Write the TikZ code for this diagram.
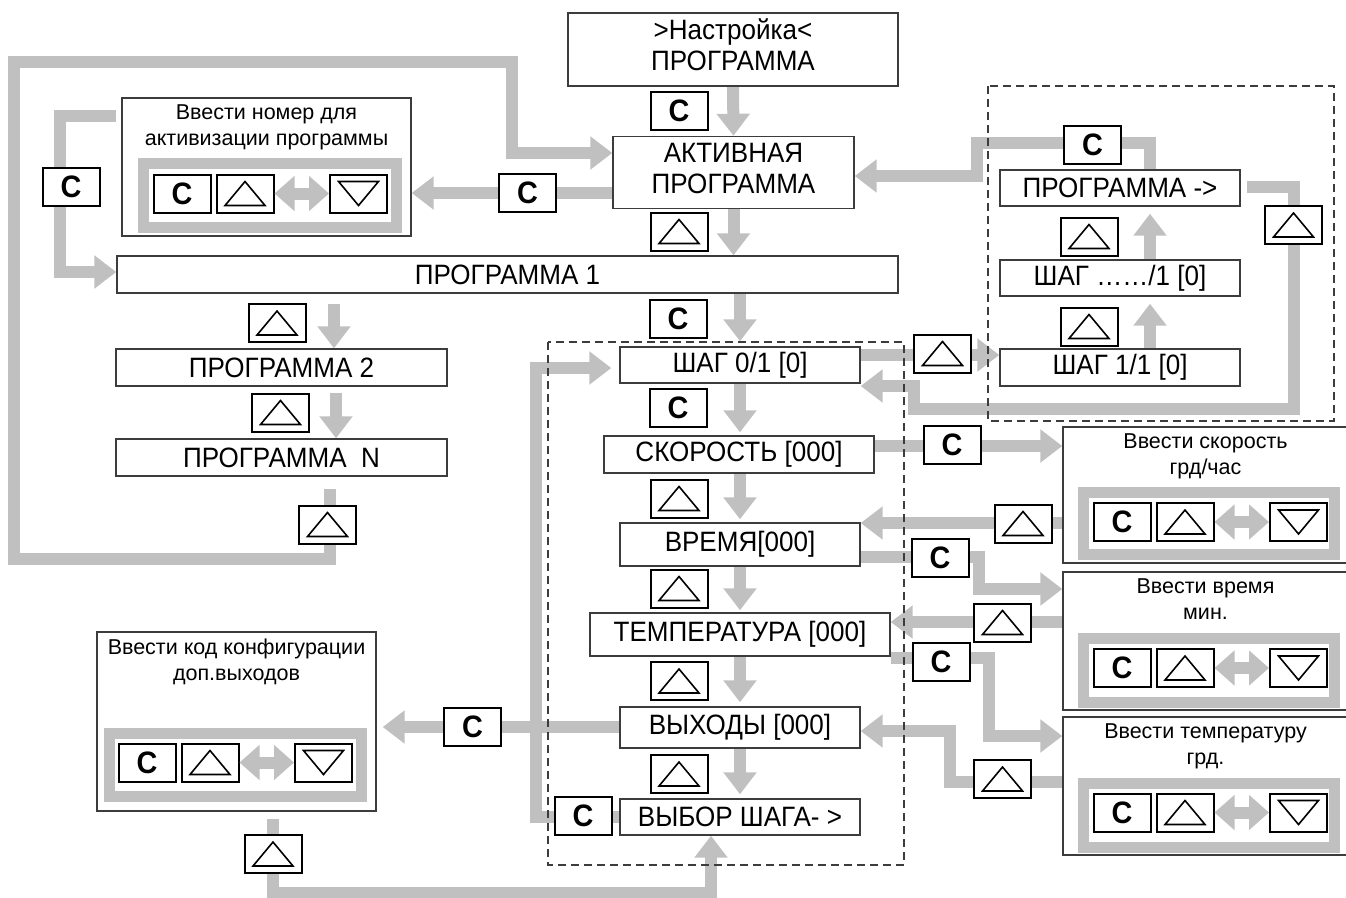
\documentclass[tikz,border=0pt]{standalone}
\usepackage{fontspec}
\setmainfont{Liberation Sans}[FakeStretch=0.93]
\newfontfamily\plainfont{Liberation Sans}
\usetikzlibrary{arrows.meta,calc}
\pgfdeclarelayer{bg}
\pgfsetlayers{bg,main}
\definecolor{ag}{RGB}{192,192,192}
\definecolor{bd}{RGB}{60,60,60}
\newcommand\mfont{\fontsize{28}{31}\selectfont}
\newcommand\sfont{\plainfont\fontsize{21.5}{26}\selectfont}
\newcommand\kfont{\bfseries\fontsize{31}{31}\selectfont}
\tikzset{
 garrow/.style={draw=ag, line width=12pt, -{Triangle[length=22pt,width=32pt]}},
 dbl/.style={draw=ag, line width=12pt, {Triangle[length=20pt,width=34pt]}-{Triangle[length=20pt,width=34pt]}},
 mbox/.style={draw=bd, line width=1.4pt, fill=white, inner sep=0pt, font=\mfont, align=center},
 ibox/.style={draw=bd, line width=1.4pt, fill=white, inner sep=0pt},
 keyb/.style={draw=black, line width=2pt, fill=white, minimum width=57pt, minimum height=38pt, inner sep=0pt, font=\kfont},
 frm/.style={draw=ag, line width=11pt},
 dbox/.style={draw=bd, line width=1.3pt, dash pattern=on 8pt off 5pt},
 tri/.style={draw=black, line width=1.6pt, line join=miter},
 ttl/.style={font=\sfont, align=center, inner sep=0pt, anchor=north},
}
\newcommand\ckey[2]{\node[keyb] (#1) at (#2) {C};}
\newcommand\upkey[2]{\node[keyb] (#1) at (#2) {};
 \draw[tri] ([shift={(-20,12)}]#1.center) -- ([shift={(20,12)}]#1.center) -- ([shift={(0,-12)}]#1.center) -- cycle;}
\newcommand\dnkey[2]{\node[keyb] (#1) at (#2) {};
 \draw[tri] ([shift={(-20,-12)}]#1.center) -- ([shift={(20,-12)}]#1.center) -- ([shift={(0,12)}]#1.center) -- cycle;}
\newcommand\keyset[3]{%
 \ckey{#1c}{#2+29,#3}
 \upkey{#1u}{#2+92,#3}
 \dnkey{#1d}{#2+205.5,#3}
 \draw[dbl] (#1u.east) -- (#1d.west);}
\begin{document}
\begin{tikzpicture}[x=1pt,y=-1pt]
\useasboundingbox (0,0) rectangle (1346,897);
% ---------- main boxes
\node[mbox, minimum width=330pt, minimum height=73pt, text depth=9pt] (top) at (733,49.5) {>Настройка<\\ПРОГРАММА};
\node[mbox, minimum width=241pt, minimum height=72pt, text depth=9pt] (act) at (733.5,172.5) {АКТИВНАЯ\\ПРОГРАММА};
\node[mbox, minimum width=781pt, minimum height=37pt] (p1) at (507.5,274.5) {ПРОГРАММА 1};
\node[mbox, minimum width=331pt, minimum height=37pt] (p2) at (281.5,367.5) {ПРОГРАММА 2};
\node[mbox, minimum width=331pt, minimum height=37pt] (pN) at (281.5,457.5) {ПРОГРАММА\ \ N};
\node[mbox, minimum width=240pt, minimum height=36pt] (s0) at (740,365) {ШАГ 0/1 [0]};
\node[mbox, minimum width=270pt, minimum height=37pt] (speed) at (739,454.5) {СКОРОСТЬ [000]};
\node[mbox, minimum width=240pt, minimum height=43pt] (time) at (740,544.5) {ВРЕМЯ[000]};
\node[mbox, minimum width=300pt, minimum height=43pt] (temp) at (740,634.5) {ТЕМПЕРАТУРА [000]};
\node[mbox, minimum width=240pt, minimum height=41pt] (out) at (740,727.5) {ВЫХОДЫ [000]};
\node[mbox, minimum width=240pt, minimum height=36pt] (sel) at (740,817) {ВЫБОР ШАГА- >};
\node[mbox, minimum width=240pt, minimum height=36pt] (pr) at (1120,188) {ПРОГРАММА ->};
\node[mbox, minimum width=240pt, minimum height=36pt] (sd) at (1120,278) {ШАГ ……/1 [0]};
\node[mbox, minimum width=240pt, minimum height=37pt] (s1) at (1120,367.5) {ШАГ 1/1 [0]};
% ---------- input boxes
\node[ibox, minimum width=289pt, minimum height=138pt] (in1) at (266.5,167) {};
\draw[frm] (143.5,163.5) rectangle (396.5,227.5);
\node[ttl] (t1) at ($(in1.north)+(0,7)$) {Ввести номер для\\активизации программы};
\keyset{a}{153}{193.5}
\node[ibox, minimum width=279pt, minimum height=179pt] (in2) at (236.5,721.5) {};
\draw[frm] (109.5,733.5) rectangle (361.5,796.5);
\node[ttl] (t2) at ($(in2.north)+(0,7.5)$) {Ввести код конфигурации\\доп.выходов};
\keyset{b}{118}{762.5}
\node[ibox, minimum width=289pt, minimum height=136pt] (in3) at (1207.5,495) {};
\draw[frm] (1083.5,492.5) rectangle (1334.5,554.5);
\node[ttl] (t3) at ($(in3.north)+(-2,7)$) {Ввести скорость\\грд/час};
\keyset{c}{1093}{522}
\node[ibox, minimum width=289pt, minimum height=138pt] (in4) at (1207.5,641) {};
\draw[frm] (1083.5,638.5) rectangle (1334.5,702.5);
\node[ttl] (t4) at ($(in4.north)+(-2,7)$) {Ввести время\\мин.};
\keyset{d}{1093}{668}
\node[ibox, minimum width=289pt, minimum height=138pt] (in5) at (1207.5,786) {};
\draw[frm] (1083.5,783.5) rectangle (1334.5,847.5);
\node[ttl] (t5) at ($(in5.north)+(-2,7)$) {Ввести температуру\\грд.};
\keyset{e}{1093}{812.5}
% ---------- keys on connectors
\ckey{kC1}{679,110.5}
\upkey{kU1}{679,231.5}
\ckey{kC2}{678,319}
\ckey{kC3}{678,407.5}
\upkey{kU2}{679,498.5}
\upkey{kU3}{679,588.5}
\upkey{kU4}{679,681}
\upkey{kU5}{679,774}
\ckey{kC4}{583,816}
\upkey{kU6}{277,323}
\upkey{kU7}{280.5,412.5}
\upkey{kU8}{327.5,524.5}
\ckey{kC5}{527.5,193}
\ckey{kC6}{71,186.5}
\ckey{kC7}{1092.5,145}
\upkey{kU9}{1089,236.5}
\upkey{kU10}{1089,326.5}
\upkey{kU11}{1293.5,225}
\upkey{kU12}{942.5,353.5}
\ckey{kC8}{952,444.5}
\upkey{kU13}{1023,523.5}
\ckey{kC9}{940,558}
\upkey{kU14}{1002.5,622.5}
\ckey{kC10}{941,661.5}
\upkey{kU15}{1002.5,779}
\ckey{kC11}{472.5,726.5}
\upkey{kU16}{273,854}
% ---------- dashed groups
\draw[dbox] (548,342) rectangle (904,865);
\draw[dbox] (988,86) rectangle (1334,421);
% ---------- coordinates
\coordinate (rB) at (0,193);
\coordinate (L1) at (330,559); \coordinate (L2) at (14,559);
\coordinate (L3) at (14,62); \coordinate (L4) at (512,62); \coordinate (L5) at (512,153);
\coordinate (M1) at (60,116); \coordinate (M2) at (60,272);
\coordinate (colA) at (334,0); \coordinate (colB) at (336,0);
\coordinate (rS) at (0,355); \coordinate (colR) at (1150,0);
\coordinate (Q1) at (1150,143); \coordinate (Q2) at (977,143); \coordinate (Q3) at (977,176);
\coordinate (R1) at (1294,187); \coordinate (R2) at (1294,409);
\coordinate (R3) at (914,409); \coordinate (R4) at (914,386);
\coordinate (rSp) at (0,446); \coordinate (rT) at (0,523);
\coordinate (U1) at (979,557); \coordinate (U2) at (979,589);
\coordinate (rV) at (0,622);
\coordinate (W1) at (989,658); \coordinate (W2) at (989,736);
\coordinate (X1) at (950,782); \coordinate (X2) at (950,731);
\coordinate (rY) at (0,727);
\coordinate (Z1) at (536,817); \coordinate (Z2) at (536,368);
\coordinate (A1) at (273,893); \coordinate (A2) at (711,893);
% ---------- connectors
\begin{pgfonlayer}{bg}
\draw[garrow] (top.south) -- (act.north);
\draw[garrow] (act.south) -- (act.south |- p1.north);
\draw[garrow, shorten >=5pt] (s0.north |- p1.south) -- (s0.north);
\draw[garrow, shorten >=3pt] (s0.south) -- (s0.south |- speed.north);
\draw[garrow, shorten >=3pt] (time.north |- speed.south) -- (time.north);
\draw[garrow, shorten >=2pt] (time.south) -- (temp.north);
\draw[garrow, shorten >=4pt] (temp.south) -- (out.north);
\draw[garrow, shorten >=4pt] (out.south) -- (sel.north);
\draw[garrow] (act.west |- rB) -- (in1.east |- rB);
\draw[garrow, shorten <=12pt] (pN.south -| L1) -- (L1) -- (L2) -- (L3) -- (L4) -- (L5) -- (act.west |- L5);
\draw[garrow, shorten <=5pt] (in1.west |- M1) -- (M1) -- (M2) -- (p1.west |- M2);
\draw[garrow, shorten <=10pt] (p1.south -| colA) -- (p2.north -| colA);
\draw[garrow, shorten <=6pt] (p2.south -| colB) -- (pN.north -| colB);
\draw[garrow] (s0.east |- rS) -- (s1.west |- rS);
\draw[garrow, shorten >=7pt] (s1.north -| colR) -- (sd.south -| colR);
\draw[garrow, shorten >=7pt] (sd.north -| colR) -- (pr.south -| colR);
\draw[garrow] (pr.north -| colR) -- (Q1) -- (Q2) -- (Q3) -- (act.east |- Q3);
\draw[garrow, shorten <=6pt] (pr.east |- R1) -- (R1) -- (R2) -- (R3) -- (R4) -- (s0.east |- R4);
\draw[garrow] (speed.east |- rSp) -- (in3.west |- rSp);
\draw[garrow] (in3.west |- rT) -- (time.east |- rT);
\draw[garrow] (time.east |- U1) -- (U1) -- (U2) -- (in4.west |- U2);
\draw[garrow] (in4.west |- rV) -- (temp.east |- rV);
\draw[garrow] (temp.east |- W1) -- (W1) -- (W2) -- (in5.west |- W2);
\draw[garrow] (in5.west |- X1) -- (X1) -- (X2) -- (out.east |- X2);
\draw[garrow, shorten >=6pt] (out.west |- rY) -- (in2.east |- rY);
\draw[garrow, shorten >=8pt] (sel.west |- Z1) -- (Z1) -- (Z2) -- (s0.west |- Z2);
\draw[garrow, shorten <=7pt] (in2.south -| A1) -- (A1) -- (A2) -- (sel.south -| A2);
\end{pgfonlayer}
\end{tikzpicture}
\end{document}
